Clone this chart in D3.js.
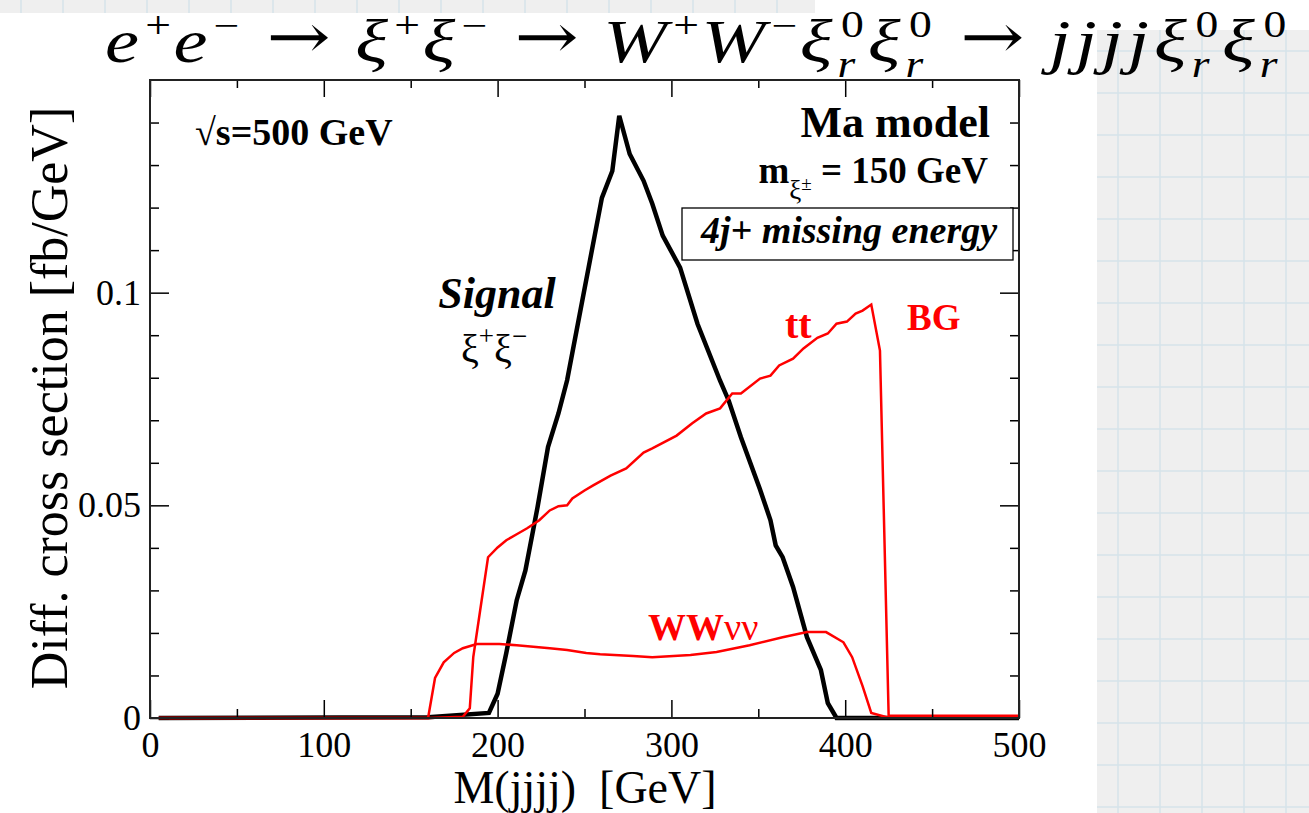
<!DOCTYPE html>
<html>
<head>
<meta charset="utf-8">
<script src="https://cdn.jsdelivr.net/npm/d3@7/dist/d3.min.js"></script>
<style>
  html, body { margin: 0; padding: 0; background: #ffffff; }
  svg { display: block; }
  text { font-family: "Liberation Serif", "Times New Roman", serif; }
</style>
</head>
<body>
<svg id="chart" width="1309" height="813"></svg>
<script>
// ---- data: differential cross section vs. 4-jet invariant mass ----
const massSignal = [5, 160, 195, 200, 205, 211, 216, 223, 229, 235, 240, 260, 266, 270, 276, 284, 289, 295, 305, 315, 328, 333, 340, 351, 357, 360, 364, 370, 378, 386, 390, 395, 500];
const xsSignal   = [0, 0.0002, 0.0012, 0.0057, 0.0153, 0.0277, 0.0347, 0.0496, 0.0637, 0.0716, 0.0794, 0.1223, 0.1286, 0.1416, 0.1326, 0.1263, 0.1209, 0.1134, 0.1059, 0.0927, 0.0793, 0.0746, 0.0660, 0.0537, 0.0465, 0.0406, 0.0378, 0.0308, 0.0190, 0.0113, 0.0035, 0, 0];

const massTT = [5, 160, 180, 184, 186, 190, 194.5, 200, 205, 211, 217, 224, 230, 235, 240, 243, 250, 255, 265, 274, 284, 289, 303, 312, 320, 328, 335, 340, 351, 357, 362, 370, 376, 384, 390, 395, 401, 406, 410, 415, 420, 425, 500];
const xsTT   = [0, 0, 0.0003, 0.0023, 0.0143, 0.0254, 0.0378, 0.0401, 0.0418, 0.0432, 0.0446, 0.0465, 0.0488, 0.0498, 0.0500, 0.0516, 0.0535, 0.0547, 0.0570, 0.0587, 0.0624, 0.0634, 0.0664, 0.0693, 0.0716, 0.0728, 0.0763, 0.0763, 0.0798, 0.0805, 0.0829, 0.0845, 0.0869, 0.0894, 0.0904, 0.0927, 0.0932, 0.0951, 0.0958, 0.0972, 0.0864, 0.0005, 0.0005];

const massWW = [5, 160, 164, 169, 175, 180, 188, 201, 211, 230, 240, 251, 259, 278, 289, 311, 326, 345, 364, 378, 389, 399, 404, 410, 415, 424, 500];
const xsWW   = [0, 0, 0.0094, 0.0131, 0.0153, 0.0164, 0.0174, 0.0174, 0.0171, 0.0164, 0.0160, 0.0153, 0.0150, 0.0146, 0.0143, 0.0148, 0.0155, 0.0171, 0.0190, 0.0202, 0.0202, 0.0178, 0.0143, 0.0075, 0.0012, 0.0002, 0.0002];

const xMajorTicks = [0, 100, 200, 300, 400, 500];
const xMinorTicks = [50, 150, 250, 350, 450];
const yMajorTicks = [0, 0.05, 0.1];
const yMinorTicks = [0.01, 0.02, 0.03, 0.04, 0.06, 0.07, 0.08, 0.09, 0.11, 0.12, 0.13, 0.14];
const yTickLabels = ["0", "0.05", "0.1"];

const svg = d3.select("#chart");

// ---- slide backdrop: grid-paper panels ----
function gridPanel(x0, y0, w, h, step) {
  const g = svg.append("g");
  g.append("rect").attr("x", x0).attr("y", y0).attr("width", w).attr("height", h).attr("fill", "#efefef");
  d3.range(x0 + step / 2, x0 + w, step).forEach(px =>
    g.append("line").attr("x1", px).attr("x2", px).attr("y1", y0).attr("y2", y0 + h)
      .attr("stroke", "#d6e3ea").attr("stroke-width", 1.5));
  d3.range(y0 + step / 2, y0 + h, step).forEach(py =>
    g.append("line").attr("x1", x0).attr("x2", x0 + w).attr("y1", py).attr("y2", py)
      .attr("stroke", "#d6e3ea").attr("stroke-width", 1.5));
}
gridPanel(0, 0, 815, 13, 42);
gridPanel(1097, 30, 212, 783, 42);

// ---- plot frame ----
const plotLeft = 150, plotRight = 1019, plotTop = 80, plotBottom = 718;
const x = d3.scaleLinear().domain([0, 500]).range([plotLeft, plotRight]);
const y = d3.scaleLinear().domain([0, 0.15]).range([plotBottom, plotTop]);

svg.append("rect").attr("x", plotLeft).attr("y", plotTop)
  .attr("width", plotRight - plotLeft).attr("height", plotBottom - plotTop)
  .attr("fill", "#ffffff");

// ---- curves ----
function curve(ms, vs) { return ms.map((m, i) => [m, vs[i]]); }
const line = d3.line().x(d => x(d[0])).y(d => y(d[1]));

const plot = svg.append("g");
plot.append("path").datum(curve(massSignal, xsSignal)).attr("d", line)
  .attr("fill", "none").attr("stroke", "#000").attr("stroke-width", 4.5)
  .attr("stroke-linejoin", "miter");
plot.append("path").datum(curve(massTT, xsTT)).attr("d", line)
  .attr("fill", "none").attr("stroke", "#ff0000").attr("stroke-width", 2.5);
plot.append("path").datum(curve(massWW, xsWW)).attr("d", line)
  .attr("fill", "none").attr("stroke", "#ff0000").attr("stroke-width", 2.5);

// ---- axes (ticks point inward on all four sides) ----
function styleAxis(g) {
  g.select(".domain").remove();
  g.selectAll(".tick line").attr("stroke", "#000").attr("stroke-width", 1.5);
  g.selectAll("text").attr("fill", "#000").style("font-family", "'Liberation Serif', serif").style("font-size", "36px");
}
const fmtX = d => String(d);
const fmtY = d => yTickLabels[yMajorTicks.indexOf(d)];

svg.append("g").attr("transform", `translate(0,${plotBottom})`)
  .call(d3.axisBottom(x).tickValues(xMajorTicks).tickFormat(fmtX).tickSizeInner(-18).tickSizeOuter(0).tickPadding(13))
  .call(styleAxis);
svg.append("g").attr("transform", `translate(0,${plotBottom})`)
  .call(d3.axisBottom(x).tickValues(xMinorTicks).tickFormat("").tickSizeInner(-9).tickSizeOuter(0))
  .call(styleAxis);
svg.append("g").attr("transform", `translate(0,${plotTop})`)
  .call(d3.axisTop(x).tickValues(xMajorTicks).tickFormat("").tickSizeInner(-17).tickSizeOuter(0))
  .call(styleAxis);
svg.append("g").attr("transform", `translate(0,${plotTop})`)
  .call(d3.axisTop(x).tickValues(xMinorTicks).tickFormat("").tickSizeInner(-8).tickSizeOuter(0))
  .call(styleAxis);

svg.append("g").attr("transform", `translate(${plotLeft},0)`)
  .call(d3.axisLeft(y).tickValues(yMajorTicks).tickFormat(fmtY).tickSizeInner(-19).tickSizeOuter(0).tickPadding(9))
  .call(styleAxis);
svg.append("g").attr("transform", `translate(${plotLeft},0)`)
  .call(d3.axisLeft(y).tickValues(yMinorTicks).tickFormat("").tickSizeInner(-9).tickSizeOuter(0))
  .call(styleAxis);
svg.append("g").attr("transform", `translate(${plotRight},0)`)
  .call(d3.axisRight(y).tickValues(yMajorTicks).tickFormat("").tickSizeInner(-19).tickSizeOuter(0))
  .call(styleAxis);
svg.append("g").attr("transform", `translate(${plotRight},0)`)
  .call(d3.axisRight(y).tickValues(yMinorTicks).tickFormat("").tickSizeInner(-9).tickSizeOuter(0))
  .call(styleAxis);

svg.append("rect").attr("x", plotLeft).attr("y", plotTop)
  .attr("width", plotRight - plotLeft).attr("height", plotBottom - plotTop)
  .attr("fill", "none").attr("stroke", "#222").attr("stroke-width", 2);

// ---- axis titles ----
svg.append("text").attr("x", 585).attr("y", 803).attr("text-anchor", "middle")
  .style("font-size", "46px").style("white-space", "pre").attr("fill", "#000")
  .text("M(jjjj)  [GeV]");
svg.append("text").attr("transform", "translate(67,398) rotate(-90)").attr("text-anchor", "middle")
  .style("font-size", "52px").attr("fill", "#000")
  .text("Diff. cross section [fb/GeV]");

// ---- annotations ----
svg.append("text").attr("x", 195).attr("y", 145).style("font-size", "38px").style("font-weight", "bold")
  .text("√s=500 GeV");
svg.append("text").attr("x", 990).attr("y", 137).attr("text-anchor", "end")
  .style("font-size", "44px").style("font-weight", "bold").text("Ma model");

const mass = svg.append("text").attr("x", 988).attr("y", 183).attr("text-anchor", "end")
  .style("font-size", "37px").style("font-weight", "bold");
mass.append("tspan").text("m");
mass.append("tspan").attr("dy", 16).style("font-size", "27px").style("font-weight", "normal").text("ξ");
mass.append("tspan").attr("dy", -9).style("font-size", "19px").style("font-weight", "normal").text("±");
mass.append("tspan").attr("dy", -7).text(" = 150 GeV");

svg.append("rect").attr("x", 682).attr("y", 208).attr("width", 331).attr("height", 52)
  .attr("fill", "#fff").attr("stroke", "#000").attr("stroke-width", 1.3);
svg.append("text").attr("x", 849).attr("y", 243).attr("text-anchor", "middle")
  .style("font-size", "38px").style("font-weight", "bold").style("font-style", "italic")
  .text("4j+ missing energy");

svg.append("text").attr("x", 497).attr("y", 308).attr("text-anchor", "middle")
  .style("font-size", "44px").style("font-weight", "bold").style("font-style", "italic").text("Signal");
const sig = svg.append("text").attr("x", 461).attr("y", 362).style("font-size", "40px");
sig.append("tspan").text("ξ");
sig.append("tspan").attr("dy", -17).style("font-size", "27px").text("+");
sig.append("tspan").attr("dy", 17).text("ξ");
sig.append("tspan").attr("dy", -17).style("font-size", "27px").text("−");

svg.append("text").attr("x", 785).attr("y", 338).attr("fill", "#ff0000")
  .style("font-size", "40px").style("font-weight", "bold").text("tt");
svg.append("text").attr("x", 907).attr("y", 330).attr("fill", "#ff0000")
  .style("font-size", "37px").style("font-weight", "bold").text("BG");
const ww = svg.append("text").attr("x", 648).attr("y", 640).attr("fill", "#ff0000");
ww.append("tspan").style("font-size", "38px").style("font-weight", "bold").text("WW");
ww.append("tspan").style("font-size", "38px").text("νν");

// ---- process title, set as a math formula ----
const titlePieces = [
  ["e", "it"], ["+", "sup"], ["e", "it"], ["−", "sup"], ["→", "op"],
  ["ξ", "it"], ["+", "sup"], ["ξ", "it"], ["−", "sup"], ["→", "op"],
  ["W", "it"], ["+", "sup"], ["W", "it"], ["−", "sup"],
  ["ξ", "it"], ["0", "supsub"], ["ξ", "it"], ["0", "supsub"], ["→", "op"],
  ["j", "it"], ["j", "it"], ["j", "it"], ["j", "it"],
  ["ξ", "it"], ["0", "supsub"], ["ξ", "it"], ["0", "supsub"]
];
const baseSize = 62, scriptSize = 37;
const tg = svg.append("g");
let cx = 0;
function put(str, px, py, size, italic, family) {
  const t = tg.append("text").attr("x", px).attr("y", py).attr("fill", "#000")
    .style("font-size", size + "px").style("font-style", italic ? "italic" : "normal").text(str);
  if (family) t.style("font-family", family);
  return t.node().getComputedTextLength();
}
titlePieces.forEach(([s, kind]) => {
  if (kind === "it") {
    cx += put(s, cx, 0, baseSize, true) + 4;
  } else if (kind === "sup") {
    cx += put(s, cx + 1, -24, scriptSize, false) + 3;
  } else if (kind === "op") {
    cx += 20;
    cx += put(s, cx, -4, 62, false, "'DejaVu Serif', serif");
    cx += 20;
  } else if (kind === "supsub") {
    const w1 = put(s, cx + 3, -25, scriptSize, false);
    const w2 = put("r", cx, 15, scriptSize, true);
    cx += Math.max(w1 + 3, w2) + 3;
  }
});
const tScale = (1290 - 105) / cx;
tg.attr("transform", `translate(105,62) scale(${tScale},1)`);
</script>
</body>
</html>
